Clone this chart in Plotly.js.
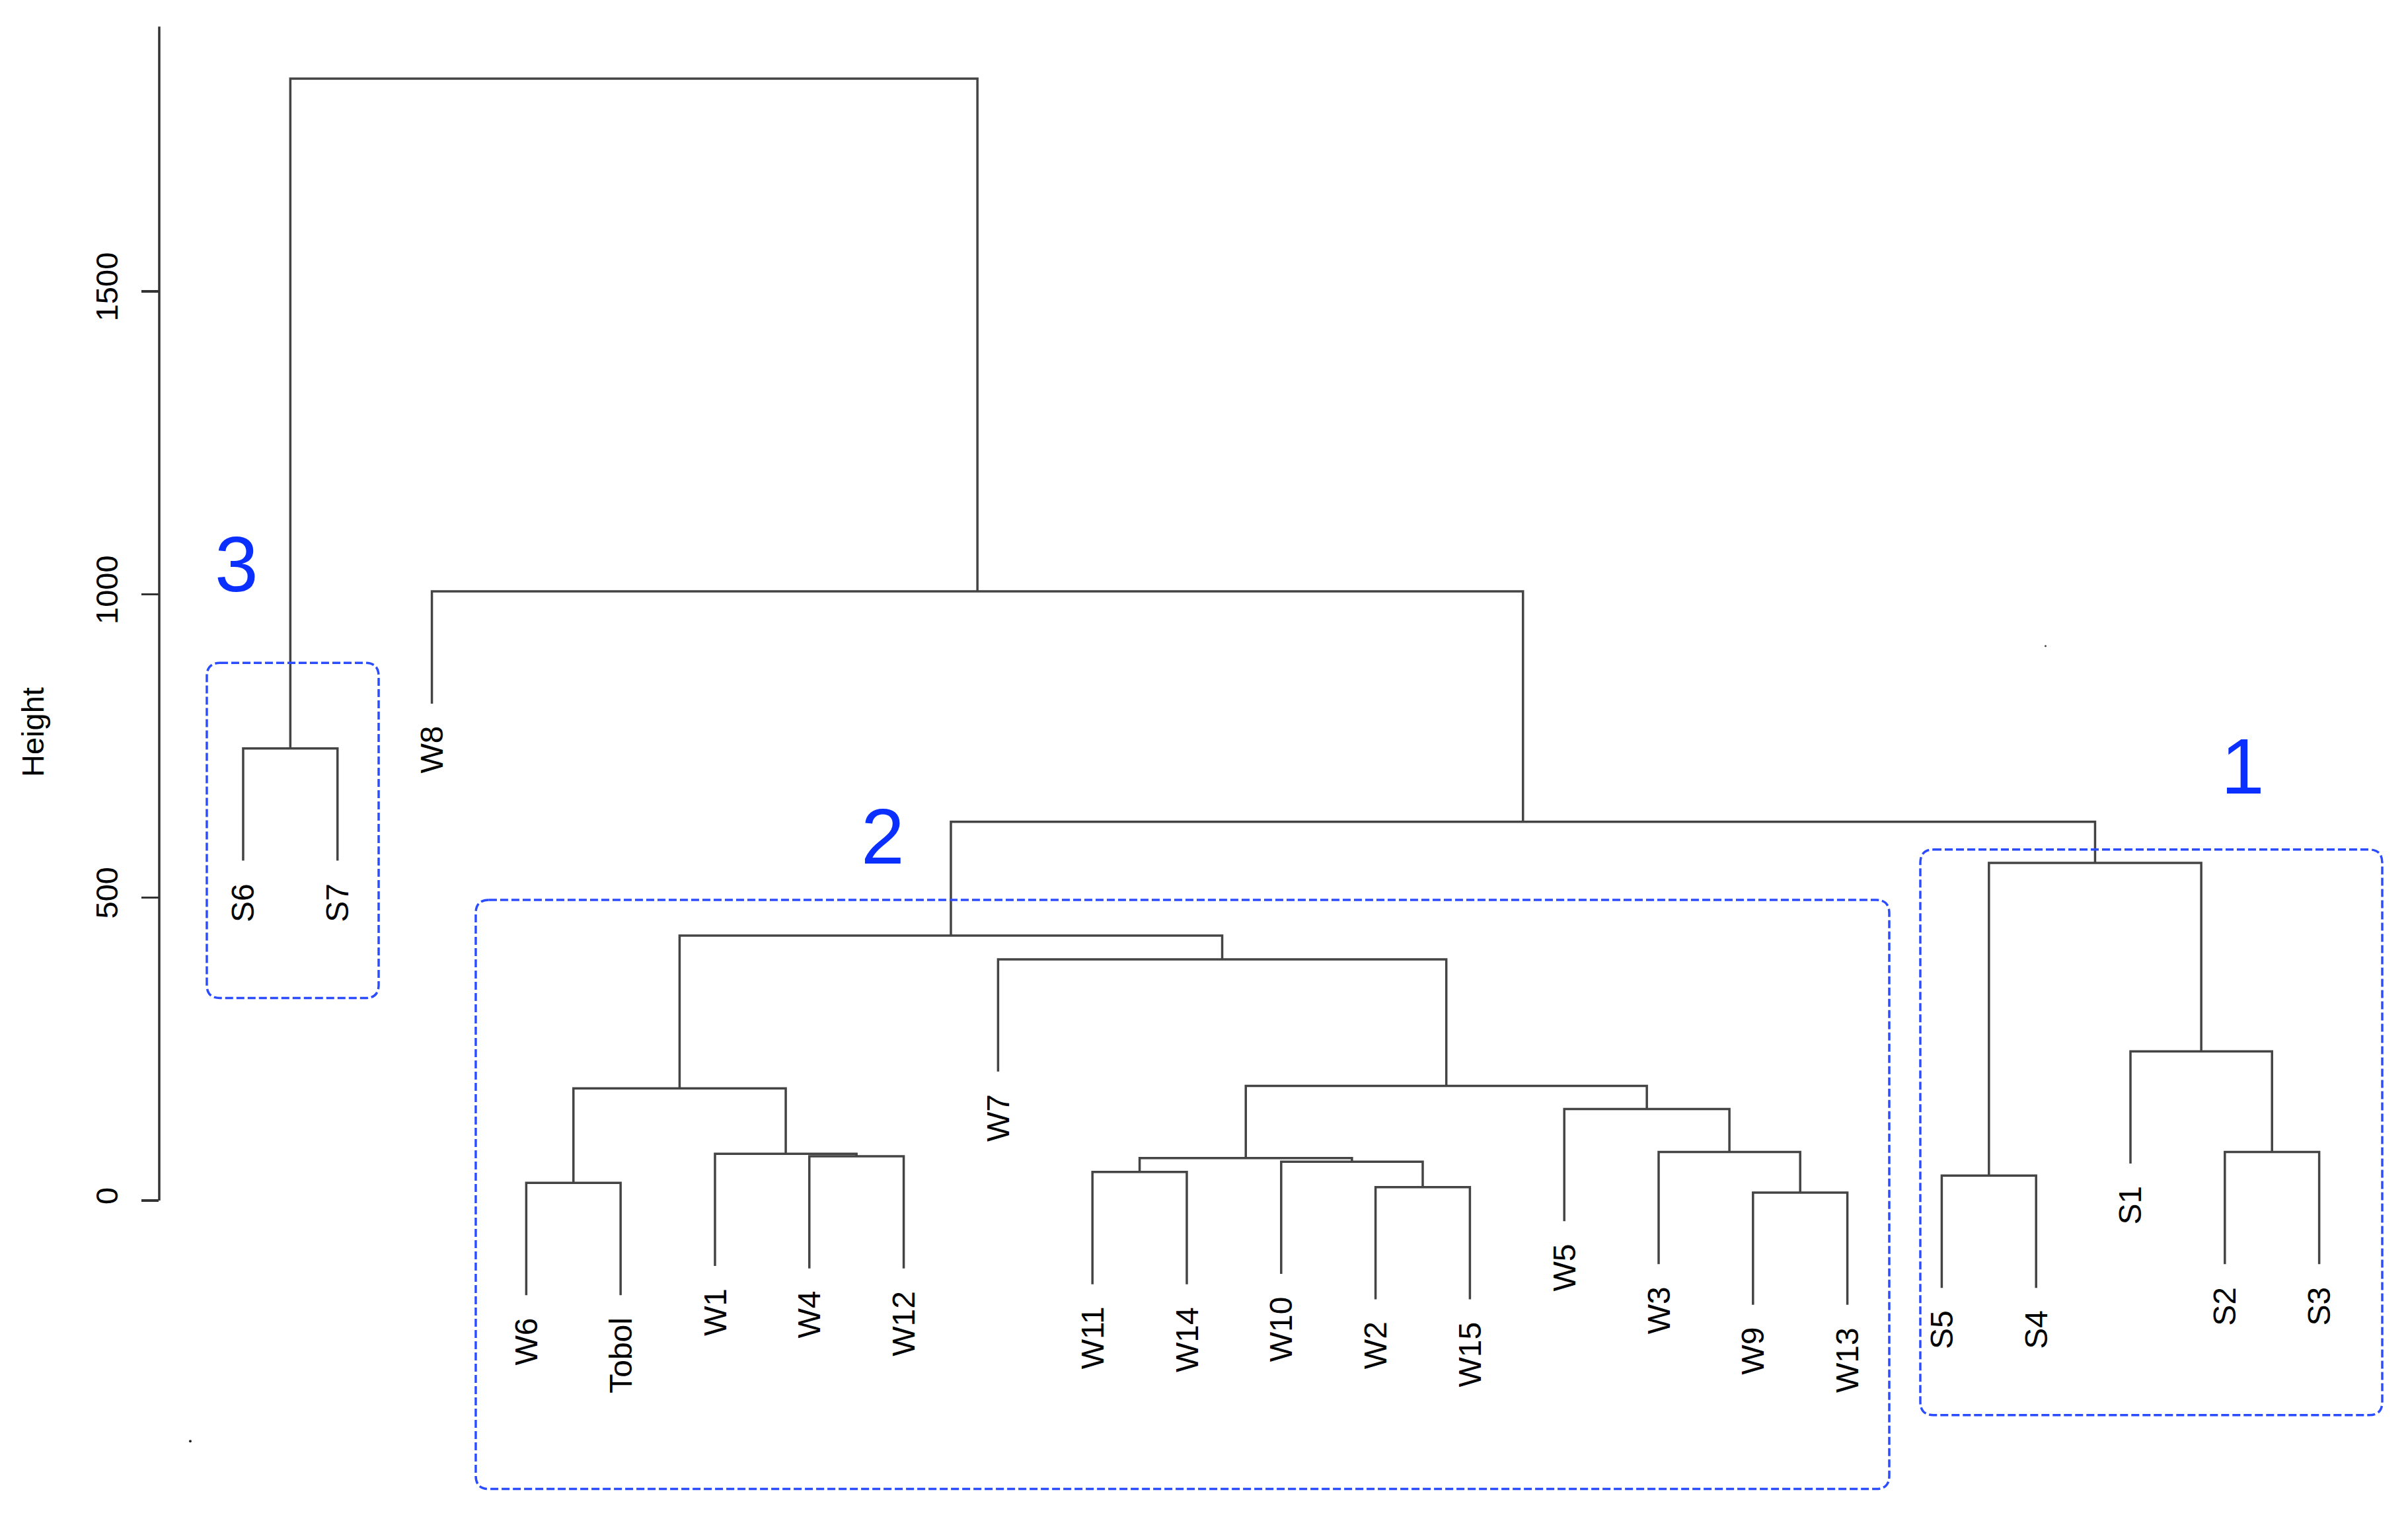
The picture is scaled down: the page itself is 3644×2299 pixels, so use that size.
<!DOCTYPE html>
<html>
<head>
<meta charset="utf-8">
<script src="https://cdn.plot.ly/plotly-3.0.1.min.js"></script>
<style>html,body{margin:0;padding:0;background:#fff;}#chart{width:3644px;height:2299px;}</style>
</head>
<body>
<div id="chart"></div>
<script>
// ---- data ----
const leafLabels = ["S6","S7","W8","W6","Tobol","W1","W4","W12","W7","W11","W14","W10","W2","W15","W5","W3","W9","W13","S5","S4","S1","S2","S3"];
// R-style merge table: negative = leaf number (1-based in leafLabels), positive = earlier merge step
const mergeLeft   = [-17,-13,-4,-19,-10,-12, 5,-7,-6,-22,-16,-15, 3, 7,-21,-9,13, 4,17,-1,-3,20];
const mergeRight  = [-18,-14,-5,-20,-11,  2, 6,-8, 8,-23,  1, 11, 9,12, 10,14,16,15,18,-2,19,21];
const mergeHeight = [13,22,29,41,47,64,70,73,77,80,80,151,185,189,246,398,437,557,625,746,1005,1851];
const tickValues = [0,500,1000,1500];
const tickLabels = ["0","500","1000","1500"];
const clusterNames = ["1","2","3"];
const yTitle = "Height";

// ---- build dendrogram ----
const hang = 0.1 * Math.max(...mergeHeight);
const mergeX = [];
function childX(c){ return c < 0 ? (-c - 1) : mergeX[c - 1]; }
for (let i = 0; i < mergeHeight.length; i++) {
  mergeX.push((childX(mergeLeft[i]) + childX(mergeRight[i])) / 2);
}
const lx = [], ly = [];
const leafBottom = new Array(leafLabels.length);
for (let i = 0; i < mergeHeight.length; i++) {
  const h = mergeHeight[i];
  const cs = [mergeLeft[i], mergeRight[i]];
  const pts = cs.map(c => {
    if (c < 0) { const b = h - hang; leafBottom[-c - 1] = b; return [-c - 1, b]; }
    return [mergeX[c - 1], mergeHeight[c - 1]];
  });
  lx.push(pts[0][0], pts[0][0], pts[1][0], pts[1][0], null);
  ly.push(pts[0][1], h, h, pts[1][1], null);
}

const FONT = "Liberation Sans, Arial, Helvetica, sans-serif";
const annotations = leafLabels.map((lab, i) => ({
  x: i, y: leafBottom[i], xref: 'x', yref: 'y', text: lab, showarrow: false,
  textangle: -90, xanchor: 'center', yanchor: 'top', yshift: -32,
  font: {family: FONT, size: 48, color: '#000'}
}));
annotations.push({xref: 'paper', x: -0.0561, yref: 'y', y: 773, text: yTitle, showarrow: false,
  textangle: -90, xanchor: 'center', yanchor: 'middle', font: {family: FONT, size: 47, color: '#000'}});

const blue = '#0a2fff';
const numPos = [[21.19, 716], [6.78, 601], [-0.07, 1050]];
clusterNames.forEach((n, k) => annotations.push({
  x: numPos[k][0], y: numPos[k][1], xref: 'x', yref: 'y', text: n, showarrow: false,
  xanchor: 'center', yanchor: 'middle', font: {family: FONT, size: 118, color: blue}
}));

function roundRect(x0, x1, y0, y1) {
  const rx = 0.14, ry = 22;
  return `M ${x0+rx},${y1} L ${x1-rx},${y1} Q ${x1},${y1} ${x1},${y1-ry} L ${x1},${y0+ry} Q ${x1},${y0} ${x1-rx},${y0} ` +
         `L ${x0+rx},${y0} Q ${x0},${y0} ${x0},${y0+ry} L ${x0},${y1-ry} Q ${x0},${y1} ${x0+rx},${y1} Z`;
}
const boxStyle = {color: '#2b4cff', width: 3.5, dash: '12px,5px'};
const shapes = [
  {type: 'path', xref: 'x', yref: 'y', path: roundRect(17.773, 22.668, -354, 579), line: boxStyle},
  {type: 'path', xref: 'x', yref: 'y', path: roundRect(2.465, 17.444, -476, 496), line: boxStyle},
  {type: 'path', xref: 'x', yref: 'y', path: roundRect(-0.385, 1.436, 334, 887), line: boxStyle},
  {type: 'line', xref: 'paper', yref: 'y', x0: 0, x1: 0, y0: 0, y1: 1937, line: {color: '#333', width: 3.5}},
  {type: 'circle', xref: 'x', yref: 'y', xsizemode: 'pixel', ysizemode: 'pixel', xanchor: -0.56, yanchor: -397,
    x0: -2, x1: 2, y0: -2, y1: 2, fillcolor: '#222', line: {width: 0}},
  {type: 'circle', xref: 'x', yref: 'y', xsizemode: 'pixel', ysizemode: 'pixel', xanchor: 19.10, yanchor: 915,
    x0: -1.5, x1: 1.5, y0: -1.5, y1: 1.5, fillcolor: '#444', line: {width: 0}}
];

const trace = {x: lx, y: ly, mode: 'lines', type: 'scatter', line: {color: '#444', width: 3.5},
  hoverinfo: 'skip', showlegend: false, cliponaxis: false};

const layout = {
  width: 3644, height: 2299,
  margin: {l: 241, r: 0, t: 40, b: 0, pad: 0},
  paper_bgcolor: '#fff', plot_bgcolor: '#fff',
  showlegend: false,
  xaxis: {range: [-0.889, 22.941], visible: false, fixedrange: true},
  yaxis: {range: [-525.5, 1937.2], showgrid: false, zeroline: false, showline: false,
    ticks: 'outside', ticklen: 26, tickwidth: 3.5, tickcolor: '#333',
    tickmode: 'array', tickvals: tickValues, ticktext: tickLabels, tickangle: -90,
    ticklabelstandoff: 17,
    tickfont: {family: FONT, size: 47, color: '#000'}, automargin: false, fixedrange: true},
  annotations: annotations,
  shapes: shapes
};
Plotly.newPlot('chart', [trace], layout, {staticPlot: true, displayModeBar: false});
</script>
</body>
</html>
